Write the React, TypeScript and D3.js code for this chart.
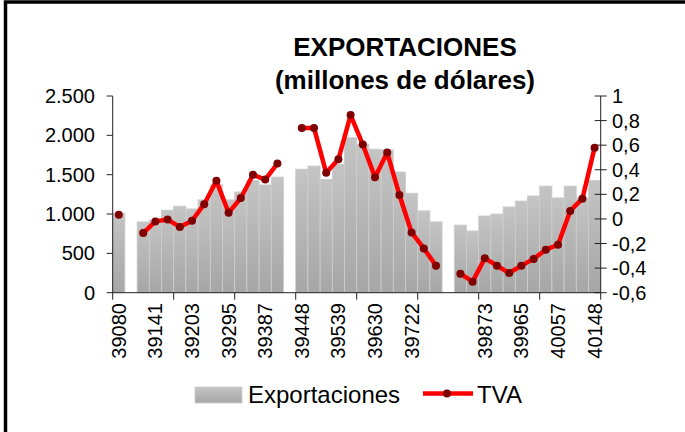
import { useEffect, useRef } from "react";
import * as d3 from "d3";

// category labels (Excel date serials), "" = blank separator row
const categories = [
  "39080", "",
  "39083", "39141", "39142", "39173", "39203", "39234", "39264", "39295", "39326", "39356", "39387", "39417",
  "",
  "39448", "39479", "39508", "39539", "39569", "39600", "39630", "39661", "39692", "39722", "39753", "39783",
  "",
  "39814", "39845", "39873", "39904", "39934", "39965", "39995", "40026", "40057", "40087", "40118", "40148",
];

const exportaciones = [
  1010, null,
  900, 925, 1050, 1100, 1065, 1180, 1370, 1180, 1280, 1425, 1370, 1470,
  null,
  1570, 1610, 1440, 1635, 1970, 1890, 1825, 1815, 1535, 1265, 1040, 900,
  null,
  860, 785, 975, 1000, 1090, 1165, 1230, 1355, 1205, 1355, 1205, 1425,
];

const tva = [
  0.035, null,
  -0.115, -0.02, -0.005, -0.065, -0.015, 0.12, 0.31, 0.05, 0.17, 0.36, 0.32, 0.45,
  null,
  0.74, 0.74, 0.375, 0.485, 0.845, 0.605, 0.34, 0.54, 0.195, -0.11, -0.24, -0.38,
  null,
  -0.445, -0.51, -0.32, -0.38, -0.44, -0.38, -0.325, -0.25, -0.21, 0.065, 0.165, 0.58,
];

const leftTicks = [0, 500, 1000, 1500, 2000, 2500];
const rightTicks = [-0.6, -0.4, -0.2, 0, 0.2, 0.4, 0.6, 0.8, 1];

export default function App() {
  const svgRef = useRef<SVGSVGElement>(null);
  const width = 685;
  const height = 432;

  useEffect(() => {
    const svg = d3.select(svgRef.current);
    svg.selectAll("*").remove();

    const locale = d3.formatLocale({
      decimal: ",",
      thousands: ".",
      grouping: [3],
      currency: ["$", ""],
      minus: "-",
    });
    const fmtLeft = locale.format(",");
    const fmtRight = (v: number) => (Math.abs(v) < 1e-9 ? "0" : locale.format("")(+v.toFixed(1)));

    const left = 112.7, right = 600.7, top = 96, bottom = 292.7;
    const x = d3.scaleBand<number>().domain(d3.range(categories.length)).range([left, right]).padding(0);
    const yL = d3.scaleLinear().domain([0, 2500]).range([bottom, top]);
    const yR = d3.scaleLinear().domain([-0.6, 1]).range([bottom, top]);
    const font = "'Liberation Sans', Arial, sans-serif";

    const defs = svg.append("defs");
    const grad = defs.append("linearGradient").attr("id", "barGrad").attr("x1", 0).attr("y1", 0).attr("x2", 0).attr("y2", 1);
    grad.append("stop").attr("offset", "0%").attr("stop-color", "#c4c4c4");
    grad.append("stop").attr("offset", "100%").attr("stop-color", "#a6a6a6");

    // frame
    svg.append("rect")
      .attr("x", 5.5).attr("y", 2).attr("width", 700).attr("height", 500)
      .attr("fill", "white").attr("stroke", "black").attr("stroke-width", 3.5);

    // bars
    svg.append("g")
      .selectAll("rect")
      .data(exportaciones.map((v, i) => ({ v, i })).filter((d) => d.v != null))
      .join("rect")
      .attr("x", (d) => x(d.i)!)
      .attr("width", x.bandwidth())
      .attr("y", (d) => yL(d.v as number))
      .attr("height", (d) => yL(0) - yL(d.v as number))
      .attr("fill", "url(#barGrad)")
      .attr("stroke", "#cdcdcd")
      .attr("stroke-width", 0.8);

    // axes
    const ax = svg.append("g").attr("stroke", "#222").attr("stroke-width", 1);
    ax.append("line").attr("x1", left).attr("x2", left).attr("y1", top).attr("y2", bottom);
    ax.append("line").attr("x1", right).attr("x2", right).attr("y1", top).attr("y2", bottom);
    ax.append("line").attr("x1", left).attr("x2", right).attr("y1", bottom).attr("y2", bottom);
    leftTicks.forEach((t) => {
      ax.append("line").attr("x1", left - 6).attr("x2", left).attr("y1", yL(t)).attr("y2", yL(t));
    });
    rightTicks.forEach((t) => {
      ax.append("line").attr("x1", right - 6).attr("x2", right + 6).attr("y1", yR(t)).attr("y2", yR(t));
    });
    d3.range(0, categories.length + 1, 5).forEach((k) => {
      const xx = left + k * x.bandwidth();
      ax.append("line").attr("x1", xx).attr("x2", xx).attr("y1", bottom).attr("y2", bottom + 7);
    });

    const txt = svg.append("g").attr("font-family", font).attr("fill", "black");
    leftTicks.forEach((t) => {
      txt.append("text").attr("x", 95).attr("y", yL(t)).attr("dy", "0.35em")
        .attr("text-anchor", "end").attr("font-size", 20).text(fmtLeft(t));
    });
    rightTicks.forEach((t) => {
      txt.append("text").attr("x", 612).attr("y", yR(t)).attr("dy", "0.35em")
        .attr("text-anchor", "start").attr("font-size", 20).text(fmtRight(t));
    });
    categories.forEach((c, i) => {
      if (i % 3 !== 0 || !c) return;
      const cx = x(i)! + x.bandwidth() / 2;
      txt.append("text")
        .attr("transform", `translate(${cx},303) rotate(-90)`)
        .attr("dy", "0.35em")
        .attr("text-anchor", "end").attr("font-size", 20).text(c);
    });

    // TVA line
    const line = d3.line<number | null>()
      .defined((d) => d != null)
      .x((_, i) => x(i)! + x.bandwidth() / 2)
      .y((d) => yR(d as number));
    svg.append("path").datum(tva).attr("d", line)
      .attr("fill", "none").attr("stroke", "#ff0000").attr("stroke-width", 4.5)
      .attr("stroke-linejoin", "round");
    svg.append("g").selectAll("circle")
      .data(tva.map((v, i) => ({ v, i })).filter((d) => d.v != null))
      .join("circle")
      .attr("cx", (d) => x(d.i)! + x.bandwidth() / 2)
      .attr("cy", (d) => yR(d.v as number))
      .attr("r", 4)
      .attr("fill", "#800000");

    // title
    const title = svg.append("g").attr("font-family", font).attr("font-weight", "bold")
      .attr("font-size", 26).attr("text-anchor", "middle");
    title.append("text").attr("x", 405).attr("y", 56).text("EXPORTACIONES");
    title.append("text").attr("x", 405).attr("y", 89).text("(millones de dólares)");

    // legend
    const lg = svg.append("g").attr("font-family", font).attr("font-size", 24);
    lg.append("rect").attr("x", 195).attr("y", 387).attr("width", 47).attr("height", 16)
      .attr("fill", "url(#barGrad)").attr("stroke", "#cdcdcd").attr("stroke-width", 0.8);
    lg.append("text").attr("x", 248).attr("y", 395).attr("dy", "0.35em").text("Exportaciones");
    lg.append("line").attr("x1", 423).attr("x2", 473).attr("y1", 393.5).attr("y2", 393.5)
      .attr("stroke", "#ff0000").attr("stroke-width", 4.5);
    lg.append("circle").attr("cx", 447).attr("cy", 393.5).attr("r", 4).attr("fill", "#800000");
    lg.append("text").attr("x", 477).attr("y", 395).attr("dy", "0.35em").text("TVA");
  }, []);

  return (
    <svg
      ref={svgRef}
      width={width}
      height={height}
      style={{ position: "absolute", left: 0, top: 0, background: "white" }}
    />
  );
}
